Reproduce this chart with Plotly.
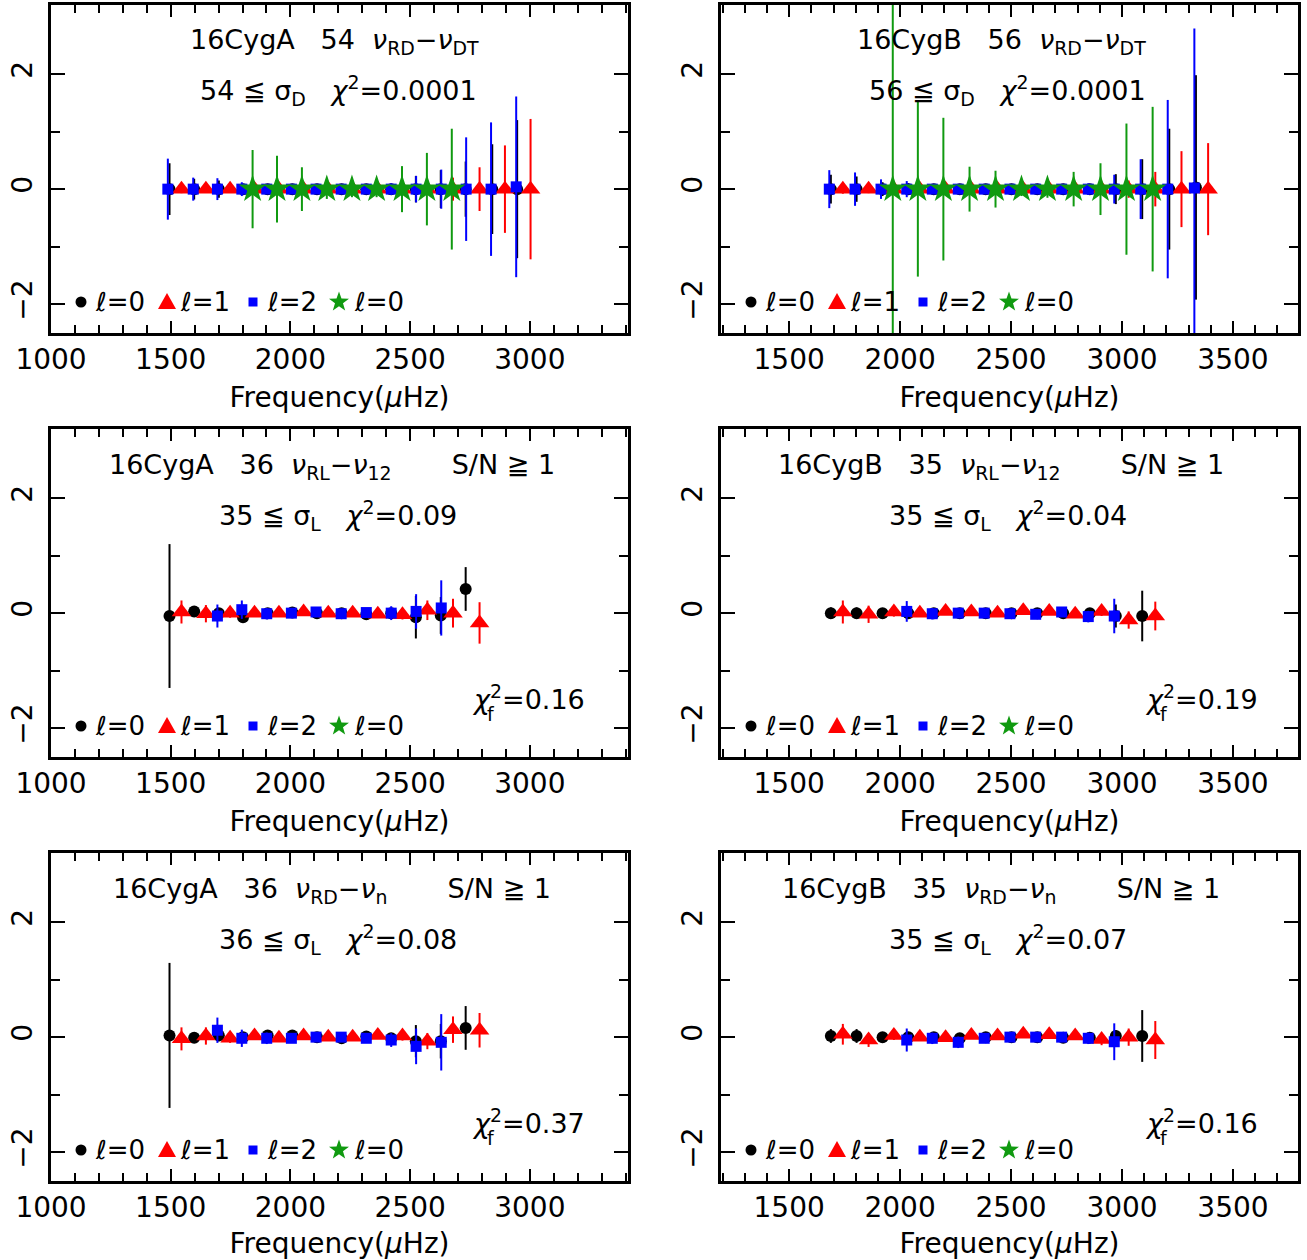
import math
import plotly.graph_objects as go

W, H = 1307, 1260
FONT = "DejaVu Sans"

# ---------------- DATA ----------------
# 16CygA, nu_RD - nu_DT (54 modes)
A1_L0_F = [1495, 1598, 1701, 1802, 1905, 2008, 2111, 2214, 2317, 2421, 2524, 2628, 2732, 2843, 2947]
A1_L0_Y = [0.0, 0.0, 0.0, 0.0, 0.0, 0.0, 0.0, 0.0, 0.0, 0.0, 0.0, 0.0, 0.0, 0.0, 0.0]
A1_L0_E = [0.45, 0.18, 0.15, 0.09, 0.07, 0.06, 0.06, 0.06, 0.07, 0.09, 0.23, 0.33, 0.48, 0.78, 1.2]
A1_L1_F = [1545, 1647, 1748, 1850, 1952, 2055, 2158, 2260, 2365, 2468, 2572, 2679, 2790, 2896, 3003]
A1_L1_Y = [0.0, 0.0, 0.0, 0.0, 0.0, 0.0, 0.0, 0.0, 0.0, 0.0, 0.0, 0.0, 0.0, 0.0, 0.0]
A1_L1_E = [0.07, 0.06, 0.05, 0.05, 0.05, 0.05, 0.05, 0.05, 0.05, 0.06, 0.1, 0.2, 0.38, 0.76, 1.22]
A1_L2_F = [1488, 1594, 1695, 1797, 1901, 2004, 2107, 2212, 2317, 2421, 2525, 2630, 2734, 2838, 2943]
A1_L2_Y = [0.0, 0.0, 0.0, 0.0, 0.0, 0.0, 0.0, 0.0, 0.0, 0.0, 0.0, 0.0, 0.0, 0.0, 0.04]
A1_L2_E = [0.53, 0.2, 0.19, 0.12, 0.08, 0.06, 0.06, 0.06, 0.07, 0.1, 0.23, 0.34, 0.9, 1.16, 1.57]
A1_L3_F = [1842, 1944, 2048, 2152, 2257, 2360, 2466, 2570, 2674]
A1_L3_Y = [0.0, 0.0, 0.0, 0.0, 0.0, 0.0, 0.0, 0.0, 0.0]
A1_L3_E = [0.68, 0.58, 0.38, 0.17, 0.14, 0.14, 0.4, 0.63, 1.05]

# 16CygB, nu_RD - nu_DT (56 modes)
B1_L0_F = [1688, 1804, 1921, 2037, 2152, 2269, 2386, 2502, 2618, 2735, 2855, 2972, 3091, 3213, 3333]
B1_L0_Y = [0.0, 0.0, 0.0, 0.0, 0.0, 0.0, 0.0, 0.0, 0.0, 0.0, 0.0, 0.0, 0.0, 0.0, 0.03]
B1_L0_E = [0.25, 0.22, 0.12, 0.1, 0.07, 0.06, 0.06, 0.06, 0.06, 0.07, 0.09, 0.26, 0.52, 1.05, 1.95]
B1_L1_F = [1742, 1858, 1972, 2089, 2205, 2321, 2439, 2555, 2672, 2789, 2908, 3030, 3150, 3268, 3388]
B1_L1_Y = [0.0, 0.0, 0.0, 0.0, 0.0, 0.0, 0.0, 0.0, 0.0, 0.0, 0.0, 0.0, 0.0, 0.0, 0.0]
B1_L1_E = [0.08, 0.07, 0.06, 0.05, 0.05, 0.05, 0.05, 0.05, 0.05, 0.06, 0.07, 0.15, 0.3, 0.66, 0.8]
B1_L2_F = [1681, 1797, 1914, 2030, 2145, 2262, 2379, 2495, 2611, 2728, 2848, 2965, 3084, 3206, 3326]
B1_L2_Y = [0.0, 0.0, 0.0, 0.0, 0.0, 0.0, 0.0, 0.0, 0.0, 0.0, 0.0, 0.0, 0.0, 0.0, 0.02]
B1_L2_E = [0.33, 0.29, 0.17, 0.14, 0.08, 0.07, 0.07, 0.07, 0.07, 0.08, 0.1, 0.25, 0.52, 1.55, 2.77]
B1_L3_F = [1967, 2080, 2195, 2313, 2430, 2547, 2664, 2782, 2903, 3020, 3138]
B1_L3_Y = [0.0, 0.0, 0.0, 0.0, 0.0, 0.0, 0.0, 0.0, 0.0, 0.0, 0.0]
B1_L3_E = [4.0, 1.52, 1.24, 0.39, 0.32, 0.12, 0.15, 0.3, 0.45, 1.14, 1.43]

# 16CygA mode frequencies used for the S/N >= 1 panels
A_L0_F = [1495, 1598, 1701, 1802, 1905, 2008, 2111, 2214, 2317, 2421, 2524, 2628, 2732]
A_L1_F = [1545, 1647, 1748, 1850, 1952, 2055, 2158, 2260, 2365, 2468, 2572, 2679, 2790]
A_L2_F = [1695, 1797, 1901, 2004, 2107, 2212, 2317, 2421, 2525, 2630]
# 16CygB mode frequencies used for the S/N >= 1 panels
B_L0_F = [1688, 1804, 1921, 2037, 2152, 2269, 2386, 2502, 2618, 2735, 2855, 2972, 3091]
B_L1_F = [1742, 1858, 1972, 2089, 2205, 2321, 2439, 2555, 2672, 2789, 2908, 3030, 3150]
B_L2_F = [2030, 2145, 2262, 2379, 2495, 2611, 2728, 2848, 2965]

# 16CygA nu_RL - nu_12
A2_L0_Y = [-0.05, 0.03, 0.0, -0.07, 0.0, 0.01, 0.0, 0.0, -0.02, 0.0, -0.07, -0.04, 0.42]
A2_L0_E = [1.25, 0.05, 0.08, 0.07, 0.05, 0.05, 0.05, 0.05, 0.05, 0.06, 0.37, 0.32, 0.38]
A2_L1_Y = [0.02, -0.01, 0.0, 0.0, 0.0, 0.02, 0.0, 0.0, -0.02, -0.03, 0.05, 0.0, -0.17]
A2_L1_E = [0.2, 0.15, 0.08, 0.06, 0.05, 0.05, 0.05, 0.05, 0.06, 0.08, 0.17, 0.25, 0.36]
A2_L2_Y = [-0.05, 0.06, -0.01, 0.0, 0.02, -0.01, 0.01, 0.0, 0.03, 0.09]
A2_L2_E = [0.2, 0.16, 0.1, 0.06, 0.06, 0.06, 0.06, 0.12, 0.3, 0.48]

# 16CygB nu_RL - nu_12
B2_L0_Y = [0.0, 0.0, 0.0, 0.0, 0.0, 0.0, 0.0, 0.0, 0.0, 0.0, 0.0, -0.05, -0.05]
B2_L0_E = [0.1, 0.1, 0.07, 0.07, 0.05, 0.05, 0.05, 0.05, 0.05, 0.05, 0.08, 0.2, 0.44]
B2_L1_Y = [0.02, -0.02, 0.02, 0.0, 0.03, 0.02, 0.0, 0.04, 0.03, -0.02, 0.03, -0.12, -0.05]
B2_L1_E = [0.2, 0.15, 0.08, 0.06, 0.05, 0.05, 0.05, 0.05, 0.05, 0.06, 0.08, 0.15, 0.25]
B2_L2_Y = [0.03, -0.01, 0.0, 0.0, -0.01, -0.02, 0.02, -0.06, -0.05]
B2_L2_E = [0.18, 0.1, 0.07, 0.06, 0.06, 0.06, 0.07, 0.1, 0.3]

# 16CygA nu_RD - nu_n
A3_L0_Y = [0.03, -0.01, 0.03, 0.0, 0.03, 0.03, 0.0, -0.02, 0.01, -0.02, -0.07, -0.07, 0.16]
A3_L0_E = [1.26, 0.06, 0.1, 0.06, 0.05, 0.05, 0.05, 0.05, 0.05, 0.07, 0.28, 0.3, 0.38]
A3_L1_Y = [-0.03, 0.02, -0.02, 0.02, -0.02, 0.02, 0.0, 0.0, 0.03, 0.02, -0.07, 0.13, 0.12]
A3_L1_E = [0.2, 0.15, 0.08, 0.06, 0.05, 0.05, 0.05, 0.05, 0.06, 0.08, 0.14, 0.23, 0.3]
A3_L2_Y = [0.12, -0.02, -0.02, -0.02, 0.0, 0.0, -0.02, -0.05, -0.16, -0.09]
A3_L2_E = [0.22, 0.15, 0.1, 0.06, 0.06, 0.06, 0.06, 0.12, 0.31, 0.49]

# 16CygB nu_RD - nu_n
B3_L0_Y = [0.02, 0.02, 0.0, 0.0, 0.0, -0.02, 0.0, 0.0, 0.0, -0.01, -0.01, 0.02, 0.02]
B3_L0_E = [0.12, 0.12, 0.07, 0.06, 0.05, 0.05, 0.05, 0.05, 0.05, 0.05, 0.07, 0.1, 0.45]
B3_L1_Y = [0.05, -0.05, 0.03, 0.0, -0.01, 0.03, 0.02, 0.05, 0.04, 0.02, -0.04, 0.0, -0.05]
B3_L1_E = [0.18, 0.12, 0.08, 0.06, 0.05, 0.05, 0.05, 0.05, 0.05, 0.06, 0.1, 0.15, 0.33]
B3_L2_Y = [-0.05, -0.02, -0.09, -0.02, 0.0, 0.0, 0.0, -0.02, -0.08]
B3_L2_E = [0.2, 0.1, 0.1, 0.06, 0.06, 0.06, 0.06, 0.1, 0.32]

X_RANGE_A = [1000, 3410]
X_RANGE_B = [1193, 3793]
Y_RANGE = [-2.5, 3.2]
X_TICKS_A = [1000, 1500, 2000, 2500, 3000]
X_TICKS_B = [1500, 2000, 2500, 3000, 3500]
Y_TICKS = [-2, 0, 2]
Y_MINOR = [-1, 1]

LEGEND_LABELS = ["ℓ=0", "ℓ=1", "ℓ=2", "ℓ=0"]

NB = "\u00a0"
TEXTS = {
    1: ("16CygA" + NB * 3 + "54" + NB * 2 + "<i>ν</i><sub>RD</sub>−<i>ν</i><sub>DT</sub>",
        "54 ≦ σ<sub>D</sub>" + NB * 3 + "<i>χ</i><sup>2</sup>=0.0001", None),
    2: ("16CygB" + NB * 3 + "56" + NB * 2 + "<i>ν</i><sub>RD</sub>−<i>ν</i><sub>DT</sub>",
        "56 ≦ σ<sub>D</sub>" + NB * 3 + "<i>χ</i><sup>2</sup>=0.0001", None),
    3: ("16CygA" + NB * 3 + "36" + NB * 2 + "<i>ν</i><sub>RL</sub>−<i>ν</i><sub>12</sub>" + NB * 7 + "S/N ≧ 1",
        "35 ≦ σ<sub>L</sub>" + NB * 3 + "<i>χ</i><sup>2</sup>=0.09", "=0.16"),
    4: ("16CygB" + NB * 3 + "35" + NB * 2 + "<i>ν</i><sub>RL</sub>−<i>ν</i><sub>12</sub>" + NB * 7 + "S/N ≧ 1",
        "35 ≦ σ<sub>L</sub>" + NB * 3 + "<i>χ</i><sup>2</sup>=0.04", "=0.19"),
    5: ("16CygA" + NB * 3 + "36" + NB * 2 + "<i>ν</i><sub>RD</sub>−<i>ν</i><sub>n</sub>" + NB * 7 + "S/N ≧ 1",
        "36 ≦ σ<sub>L</sub>" + NB * 3 + "<i>χ</i><sup>2</sup>=0.08", "=0.37"),
    6: ("16CygB" + NB * 3 + "35" + NB * 2 + "<i>ν</i><sub>RD</sub>−<i>ν</i><sub>n</sub>" + NB * 7 + "S/N ≧ 1",
        "35 ≦ σ<sub>L</sub>" + NB * 3 + "<i>χ</i><sup>2</sup>=0.07", "=0.16"),
}

BLACK, RED, BLUE, GREEN = "#000000", "#ff0000", "#0000ff", "#109a10"

PANELS = {
    1: dict(series=[(A1_L0_F, A1_L0_Y, A1_L0_E), (A1_L1_F, A1_L1_Y, A1_L1_E),
                    (A1_L2_F, A1_L2_Y, A1_L2_E), (A1_L3_F, A1_L3_Y, A1_L3_E)], side="A"),
    2: dict(series=[(B1_L0_F, B1_L0_Y, B1_L0_E), (B1_L1_F, B1_L1_Y, B1_L1_E),
                    (B1_L2_F, B1_L2_Y, B1_L2_E), (B1_L3_F, B1_L3_Y, B1_L3_E)], side="B"),
    3: dict(series=[(A_L0_F, A2_L0_Y, A2_L0_E), (A_L1_F, A2_L1_Y, A2_L1_E),
                    (A_L2_F, A2_L2_Y, A2_L2_E)], side="A"),
    4: dict(series=[(B_L0_F, B2_L0_Y, B2_L0_E), (B_L1_F, B2_L1_Y, B2_L1_E),
                    (B_L2_F, B2_L2_Y, B2_L2_E)], side="B"),
    5: dict(series=[(A_L0_F, A3_L0_Y, A3_L0_E), (A_L1_F, A3_L1_Y, A3_L1_E),
                    (A_L2_F, A3_L2_Y, A3_L2_E)], side="A"),
    6: dict(series=[(B_L0_F, B3_L0_Y, B3_L0_E), (B_L1_F, B3_L1_Y, B3_L1_E),
                    (B_L2_F, B3_L2_Y, B3_L2_E)], side="B"),
}

# ---------------- LAYOUT GEOMETRY (pixels) ----------------
COL_X = {"A": (51, 628), "B": (721, 1298)}
ROW_Y = [(5, 333), (429, 757), (853, 1181)]
STYLES = [
    dict(color=BLACK, symbol="circle", size=12),
    dict(color=RED, symbol="triangle-up", size=17),
    dict(color=BLUE, symbol="square", size=11),
    dict(color=GREEN, symbol="star", size=21),
]
TXT = 27

fig = go.Figure()
layout = dict(width=W, height=H, margin=dict(l=0, r=0, t=0, b=0, autoexpand=False),
              paper_bgcolor="white", plot_bgcolor="white", showlegend=False,
              font=dict(family=FONT, color="black", size=28))
annotations = []
shapes = []


def px(x):
    return x / W


def py(y):
    return 1 - y / H


for idx in range(1, 7):
    p = PANELS[idx]
    side = p["side"]
    row = (idx - 1) // 2
    x0, x1 = COL_X[side]
    y0, y1 = ROW_Y[row]
    xa = "x" if idx == 1 else f"x{idx}"
    ya = "y" if idx == 1 else f"y{idx}"
    for s, (f, v, e) in enumerate(p["series"]):
        st = STYLES[s]
        fig.add_trace(go.Scatter(
            x=f, y=v, mode="markers", xaxis=xa, yaxis=ya,
            marker=dict(color=st["color"], symbol=st["symbol"], size=st["size"], line=dict(width=0)),
            error_y=dict(type="data", array=e, visible=True, thickness=2, width=0, color=st["color"]),
        ))
    xr = X_RANGE_A if side == "A" else X_RANGE_B
    xt = X_TICKS_A if side == "A" else X_TICKS_B
    layout[f"xaxis{'' if idx == 1 else idx}"] = dict(
        domain=[px(x0), px(x1)], anchor=ya, range=xr, tickmode="array", tickvals=xt,
        ticktext=[str(t) for t in xt], automargin=False,
        showline=True, linecolor="black", linewidth=2.5, mirror="allticks",
        ticks="inside", ticklen=12, tickwidth=2, tickcolor="black",
        minor=dict(ticks="inside", dtick=100, tick0=1000, ticklen=8, tickwidth=2, tickcolor="black"),
        showgrid=False, zeroline=False, tickfont=dict(size=28, family=FONT),
        ticklabelstandoff=0,
        title=dict(text="Frequency(<i>μ</i>Hz)", font=dict(size=28, family=FONT), standoff=13),
    )
    layout[f"yaxis{'' if idx == 1 else idx}"] = dict(
        domain=[py(y1), py(y0)], anchor=xa, range=Y_RANGE, tickmode="array", tickvals=Y_TICKS,
        automargin=False,
        showline=True, linecolor="black", linewidth=2.5, mirror="allticks",
        ticks="inside", ticklen=14, tickwidth=2, tickcolor="black",
        minor=dict(ticks="inside", tickmode="array", tickvals=Y_MINOR, ticklen=9, tickwidth=2,
                   tickcolor="black"),
        showgrid=False, zeroline=False, tickangle=-90, tickfont=dict(size=28, family=FONT),
        ticklabelstandoff=5,
    )

    # panel texts
    l1, l2, chif = TEXTS[idx]
    if idx <= 2:
        l1x = 188 if side == "A" else 855
        l2x = 198 if side == "A" else 867
    else:
        l1x = (107 if row == 1 else 111) if side == "A" else (776 if row == 1 else 780)
        l2x = 217 if side == "A" else 887
    annotations.append(dict(text=l1, x=px(l1x), y=py(y0 + 37), xref="paper", yref="paper",
                            xanchor="left", yanchor="middle", showarrow=False,
                            font=dict(size=TXT, family=FONT)))
    annotations.append(dict(text=l2, x=px(l2x), y=py(y0 + 86), xref="paper", yref="paper",
                            xanchor="left", yanchor="middle", showarrow=False,
                            font=dict(size=TXT, family=FONT)))
    if chif:
        cx = 470 if side == "A" else 1143
        annotations.append(dict(text="<i>χ</i><sup>2</sup>" + chif, x=px(cx), y=py(y0 + 268),
                                xref="paper", yref="paper", xanchor="left", yanchor="middle",
                                showarrow=False, font=dict(size=TXT, family=FONT)))
        annotations.append(dict(text="f", x=px(cx + 15), y=py(y0 + 285),
                                xref="paper", yref="paper", xanchor="left", yanchor="middle",
                                showarrow=False, font=dict(size=19, family=FONT)))

    # legend symbols and labels (positioned relative to the frame)
    mark_off = [30, 116, 202, 288]
    text_off = [42, 127, 214, 301]
    ly = y0 + 297
    for k in range(4):
        cxp = x0 + mark_off[k]
        col = STYLES[k]["color"]
        common = dict(xref="paper", yref="paper", xsizemode="pixel", ysizemode="pixel",
                      xanchor=px(cxp), yanchor=py(ly), fillcolor=col, line=dict(width=0))
        if k == 0:
            shapes.append(dict(type="circle", x0=-5.5, x1=5.5, y0=-5.5, y1=5.5, **common))
        elif k == 1:
            shapes.append(dict(type="path", path="M -9,-7 L 9,-7 L 0,9 Z", **common))
        elif k == 2:
            shapes.append(dict(type="rect", x0=-4.5, x1=4.5, y0=-4.5, y1=4.5, **common))
        else:
            pts = []
            for j in range(10):
                r = 10.5 if j % 2 == 0 else 4.2
                a = math.pi / 2 + j * math.pi / 5
                pts.append(f"{r * math.cos(a):.2f},{r * math.sin(a):.2f}")
            shapes.append(dict(type="path", path="M " + " L ".join(pts) + " Z", **common))
        annotations.append(dict(text="<i>" + LEGEND_LABELS[k][0] + "</i>" + LEGEND_LABELS[k][1:],
                                x=px(x0 + text_off[k]), y=py(ly), xref="paper", yref="paper",
                                xanchor="left", yanchor="middle", showarrow=False,
                                font=dict(size=26, family=FONT)))

layout["annotations"] = annotations
layout["shapes"] = shapes
fig.update_layout(**layout)
fig.write_html("out.html", config={"displayModeBar": False},
               post_script="document.body.style.margin='0px';document.body.style.padding='0px';")
